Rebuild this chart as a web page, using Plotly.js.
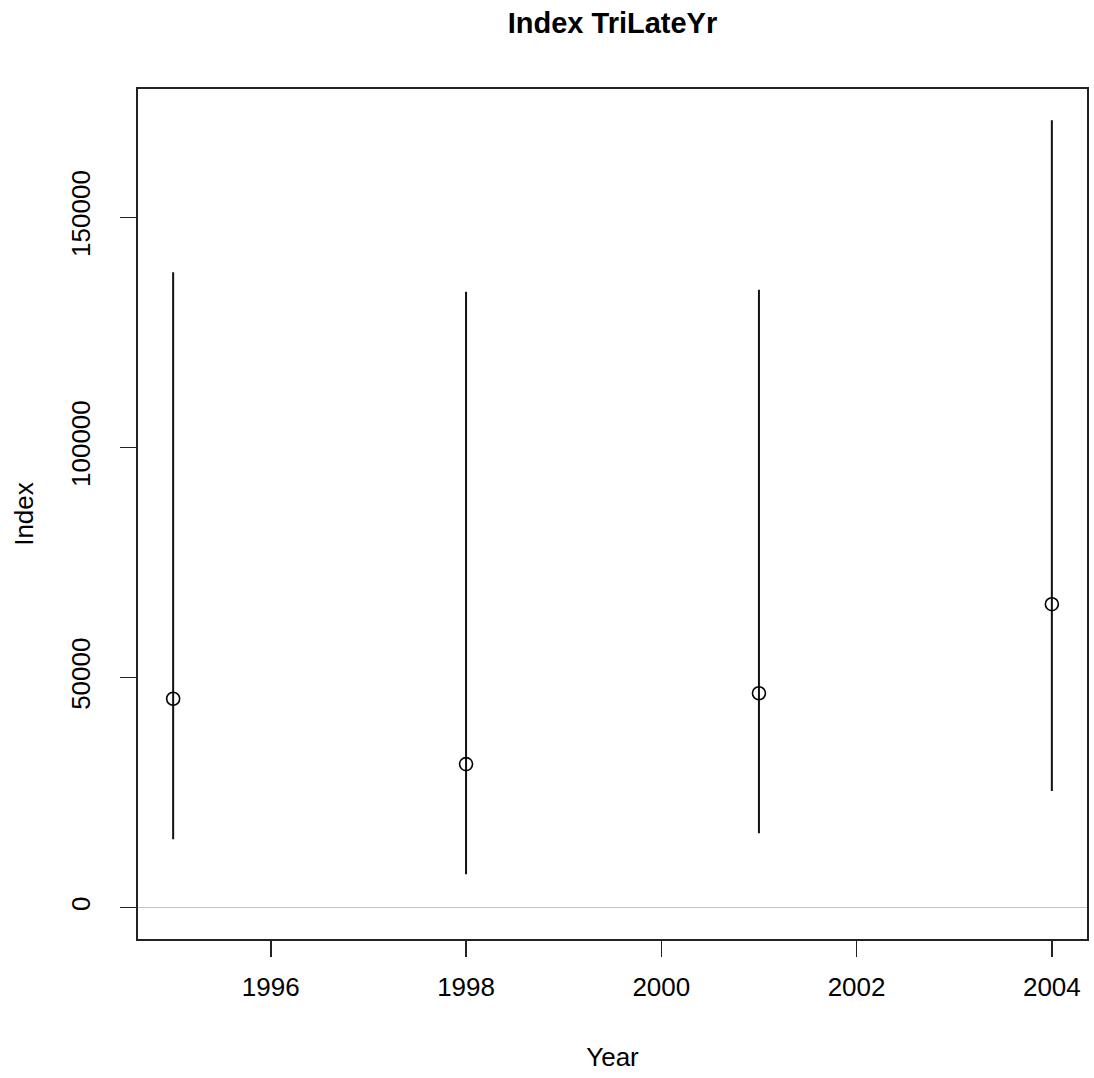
<!DOCTYPE html>
<html>
<head>
<meta charset="utf-8">
<script src="https://cdn.plot.ly/plotly-3.0.1.min.js"></script>
<style>html,body{margin:0;padding:0;background:#fff;}#chart{width:1094px;height:1078px;}</style>
</head>
<body>
<div id="chart"></div>
<script>
const years = [1995, 1998, 2001, 2004];
const indexValues = [45400, 31200, 46600, 65950];
const lowerValues = [14900, 7260, 16170, 25370];
const upperValues = [138100, 133850, 134300, 171090];
const xTicks = [1996, 1998, 2000, 2002, 2004];
const yTicks = [0, 50000, 100000, 150000];

const errPlus = indexValues.map((v, i) => upperValues[i] - v);
const errMinus = indexValues.map((v, i) => v - lowerValues[i]);

const font = 'Liberation Sans, Arial, sans-serif';

const trace = {
  x: years,
  y: indexValues,
  type: 'scatter',
  mode: 'markers',
  marker: {symbol: 'circle-open', size: 13, color: '#000', line: {width: 1.6, color: '#000'}},
  error_y: {type: 'data', symmetric: false, array: errPlus, arrayminus: errMinus,
            width: 0, thickness: 2, color: '#111'},
  hoverinfo: 'x+y',
  showlegend: false
};

const layout = {
  width: 1094, height: 1078,
  margin: {l: 138, r: 7, t: 89, b: 139},
  paper_bgcolor: '#fff', plot_bgcolor: '#fff',
  title: {text: '<b>Index TriLateYr</b>', font: {family: font, size: 29, color: '#000'},
          x: 0.5, xref: 'paper', y: 1 - 23/1078, yref: 'container', yanchor: 'middle'},
  xaxis: {
    range: [1994.64, 2004.36], tickvals: xTicks, ticktext: xTicks.map(String),
    ticks: 'outside', ticklen: 16, tickwidth: 1.5, tickcolor: '#222',
    showline: true, mirror: true, linecolor: '#222', linewidth: 2,
    showgrid: false, zeroline: false,
    tickfont: {family: font, size: 26, color: '#000'},
    ticklabelstandoff: 8,
    title: {text: 'Year', font: {family: font, size: 26, color: '#000'}, standoff: 47}
  },
  yaxis: {
    range: [-6800, 177900], tickvals: yTicks, ticktext: yTicks.map(String),
    ticks: 'outside', ticklen: 16, tickwidth: 1.5, tickcolor: '#222',
    showline: true, mirror: true, linecolor: '#222', linewidth: 2,
    showgrid: false, zeroline: true, zerolinecolor: '#c4c4c4', zerolinewidth: 1.5,
    tickfont: {family: font, size: 26, color: '#000'}, tickangle: -90,
    ticklabelstandoff: 20,
    title: {text: 'Index', font: {family: font, size: 26, color: '#000'}, standoff: 24}
  }
};

Plotly.newPlot('chart', [trace], layout, {displayModeBar: false, staticPlot: true});
</script>
</body>
</html>
